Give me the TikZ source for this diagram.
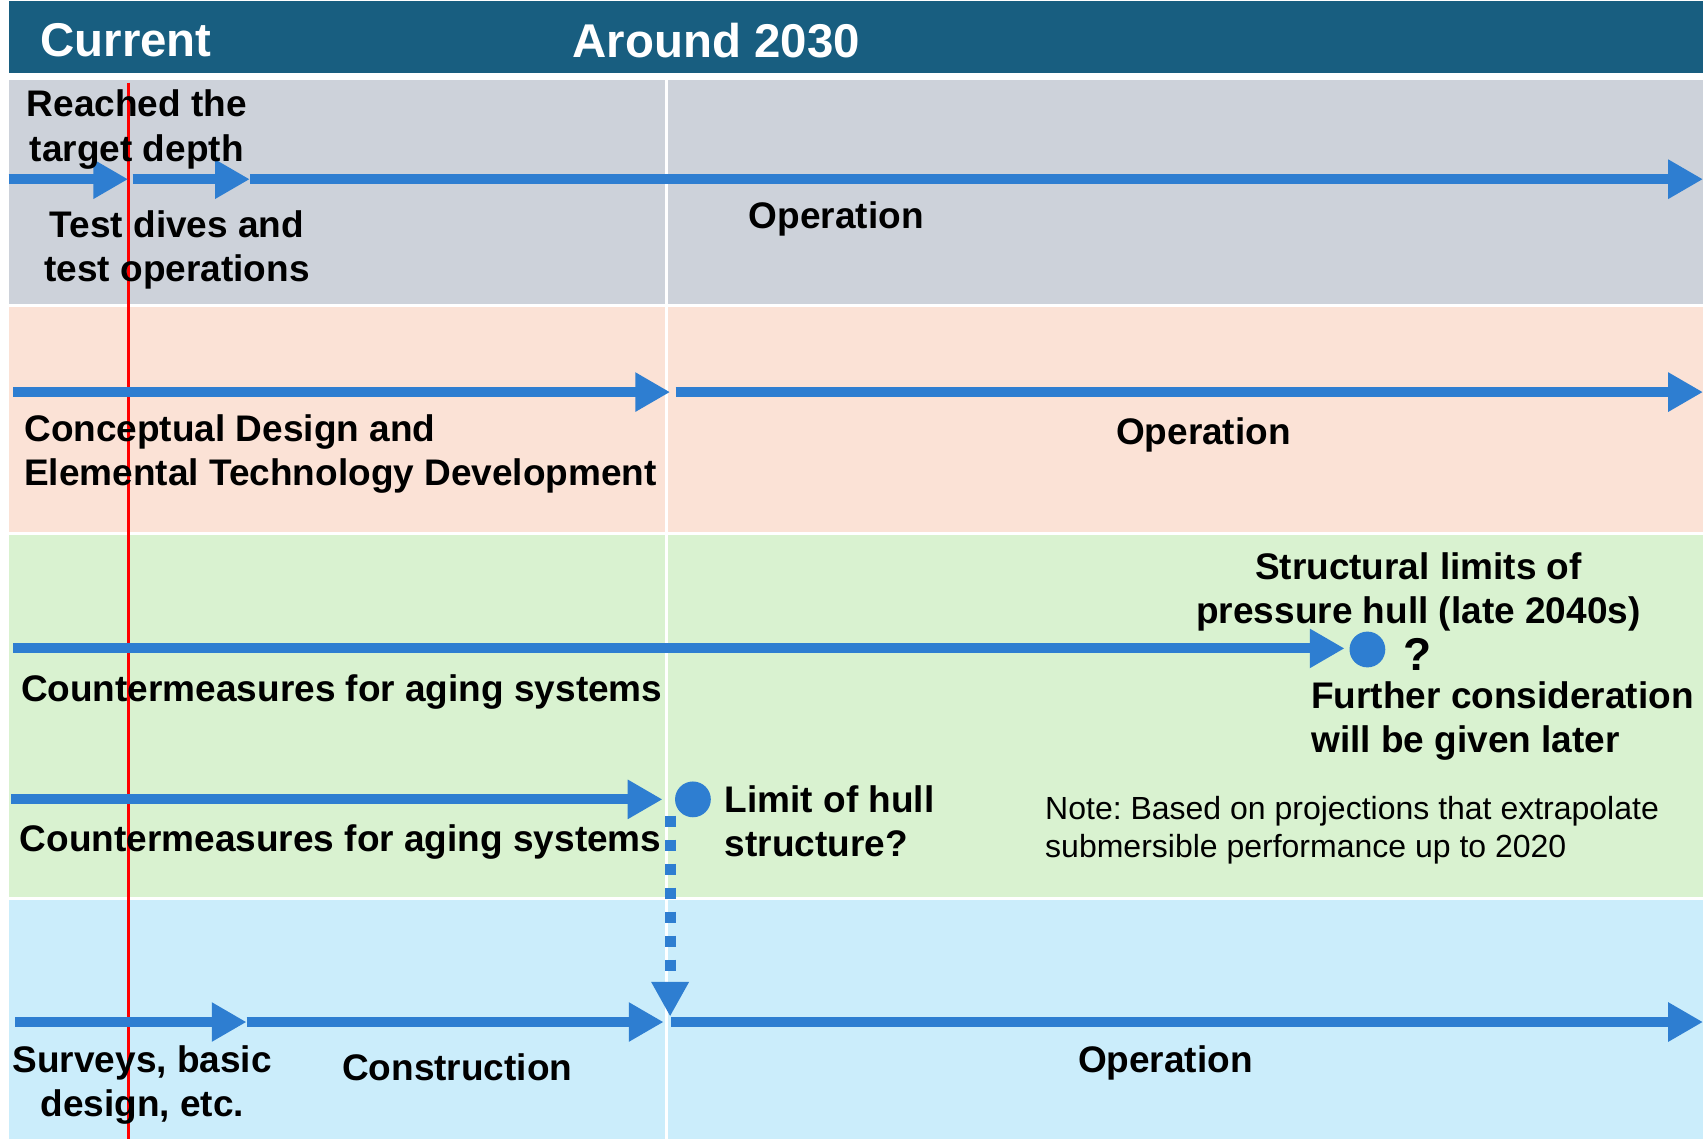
\documentclass[tikz,border=0pt]{standalone}
\usepackage{fontspec}
\setmainfont{Liberation Sans}
\usetikzlibrary{arrows.meta}
\frenchspacing
\definecolor{hdr}{RGB}{24,94,128}
\definecolor{rowgray}{RGB}{205,210,218}
\definecolor{rowpeach}{RGB}{251,226,214}
\definecolor{rowgreen}{RGB}{217,242,208}
\definecolor{rowblue}{RGB}{203,237,251}
\definecolor{arrowblue}{RGB}{46,126,209}
\tikzset{
  lbl/.style={font=\fontsize{18.5}{22.3}\selectfont\bfseries, inner sep=0pt, align=center},
  lbll/.style={lbl, align=left},
  hdrtxt/.style={font=\fontsize{23.7}{28}\selectfont\bfseries, text=white, inner sep=0pt},
  notetxt/.style={font=\fontsize{16}{19}\selectfont, inner sep=0pt, align=left},
  arr/.style={draw=arrowblue, line width=5pt, -{Triangle[length=17.4pt,width=18.5pt]}},
  dasharr/.style={draw=arrowblue, line width=5.5pt, dash pattern=on 5.8pt off 6.2pt, -{Triangle[length=17.4pt,width=17.7pt]}},
  dot/.style={circle, fill=arrowblue, minimum size=17.9pt, inner sep=0pt},
  qmark/.style={font=\fontsize{23}{27}\selectfont\bfseries, inner sep=0pt}
}
\begin{document}
\frenchspacing
\begin{tikzpicture}[x=0.5431pt,y=-0.5431pt]
\fill[white] (0,0) rectangle (1568,1049);
\useasboundingbox (0,0) rectangle (1568,1049);
% bands
\fill[hdr] (8,1) rectangle (1568,67);
\fill[rowgray] (8,74) rectangle (1568,280);
\fill[rowpeach] (8,283) rectangle (1568,490);
\fill[rowgreen] (8,493) rectangle (1568,826);
\fill[rowblue] (8,829) rectangle (1568,1049);
\draw[white, line width=1.4pt] (614,74) -- (614,1049);
\draw[red, line width=1.6pt] (118,76) -- (118,1049);
% header
\node[hdrtxt, anchor=west] (hcur) at (37,37) {Current};
\node[hdrtxt, anchor=west] (h2030) at (527,37) {Around 2030};
% row 1
\coordinate (r1a) at (8,165);
\coordinate (r1b) at (118,165);
\coordinate (r1c) at (122,165);
\coordinate (r1d) at (230,165);
\coordinate (r1e) at (1568,165);
\draw[arr] (r1a) -- (r1b);
\draw[arr] (r1c) -- (r1d);
\draw[arr] (r1d) -- (r1e);
\node[lbl] (reach) at (126,119) {Reached the\\target depth};
\node[lbl] (test) at (163,230) {Test dives and\\test operations};
\node[lbl] (op1) at (770,202) {Operation};
% row 2
\coordinate (r2a) at (12,361);
\coordinate (r2b) at (617,361);
\coordinate (r2c) at (622,361);
\coordinate (r2d) at (1568,361);
\draw[arr] (r2a) -- (r2b);
\draw[arr] (r2c) -- (r2d);
\node[lbll, anchor=west] (concept) at (22,418) {Conceptual Design and\\Elemental Technology Development};
\node[lbl] (op2) at (1108,400) {Operation};
% row 3
\coordinate (r3a) at (12,597);
\coordinate (r3b) at (1238,597);
\draw[arr] (r3a) -- (r3b);
\node[dot] (dot1) at (1259,598) {};
\node[qmark] (q) at (1305,603) {?};
\node[lbl] (struct) at (1306,545) {Structural limits of\\pressure hull (late 2040s)};
\node[lbll, anchor=west] (further) at (1207,664) {Further consideration\\will be given later};
\node[lbl, anchor=west] (cm1) at (19,637) {Countermeasures for aging systems};
% row 4
\coordinate (r4a) at (10,736);
\coordinate (r4b) at (610,736);
\draw[arr] (r4a) -- (r4b);
\node[dot] (dot2) at (638,736) {};
\node[lbll, anchor=west] (limit) at (667,756) {Limit of hull\\structure?};
\node[lbl, anchor=west] (cm2) at (18,775) {Countermeasures for aging systems};
\node[notetxt, anchor=west] (note) at (962,764) {Note: Based on projections that extrapolate\\submersible performance up to 2020};
% dashed
\coordinate (dtop) at (617,751);
\coordinate (dbot) at (617,936);
\draw[dasharr] (dtop) -- (dbot);
% row 5
\coordinate (r5a) at (14,941);
\coordinate (r5b) at (227,941);
\coordinate (r5c) at (611,941);
\coordinate (r5d) at (618,941);
\coordinate (r5e) at (1568,941);
\draw[arr] (r5a) -- (r5b);
\draw[arr] (r5b) -- (r5c);
\draw[arr] (r5d) -- (r5e);
\node[lbl] (survey) at (131,999) {Surveys, basic\\design, etc.};
\node[lbl] (constr) at (421,983) {Construction};
\node[lbl] (op5) at (1073,979) {Operation};
\end{tikzpicture}
\end{document}
